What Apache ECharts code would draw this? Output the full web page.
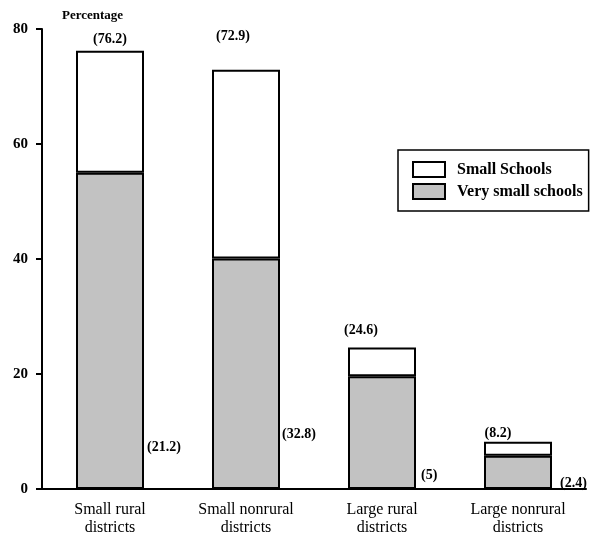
<!DOCTYPE html>
<html><head><meta charset="utf-8">
<script src="https://cdn.jsdelivr.net/npm/echarts@6/dist/echarts.min.js"></script>
<style>html,body{margin:0;padding:0;background:#fff}#c{width:597px;height:539px}</style>
</head><body><div id="c"></div>
<script>
const categories = ['Small rural\ndistricts', 'Small nonrural\ndistricts', 'Large rural\ndistricts', 'Large nonrural\ndistricts'];
const totals = [76.2, 72.9, 24.6, 8.2];
const smallSchools = [21.2, 32.8, 5, 2.4];
const verySmallSchools = [55.0, 40.1, 19.6, 5.8];
const yTicks = [0, 20, 40, 60, 80];

// label layout (not data)
const topLabelOffsets = [[0, 0], [-13, -22], [-21, -6], [-20, 3]];
const sideLabelOffsets = [[3, -35], [2, -48], [5, -7], [8, 1]];

const FONT = 'Liberation Serif';
const chart = echarts.init(document.getElementById('c'));
chart.setOption({
  animation: false,
  backgroundColor: '#fff',
  textStyle: { fontFamily: FONT, color: '#000' },
  grid: { left: 42, right: 11, top: 29, bottom: 50 },
  legend: {
    orient: 'vertical', left: 398, top: 150,
    padding: [11, 6, 11, 14], itemGap: 5,
    borderColor: '#000', borderWidth: 1.5,
    itemWidth: 32, itemHeight: 15,
    textStyle: { fontFamily: FONT, fontSize: 16, fontWeight: 'bold', color: '#000', padding: [0, 0, 0, 7] },
    data: [
      { name: 'Small Schools', icon: 'rect' },
      { name: 'Very small schools', icon: 'rect' }
    ]
  },
  xAxis: {
    type: 'category', data: categories,
    axisLine: { lineStyle: { color: '#000', width: 2 } },
    axisTick: { show: false },
    axisLabel: { fontFamily: FONT, fontSize: 16, color: '#000', lineHeight: 18, margin: 12 }
  },
  yAxis: {
    type: 'value', min: 0, max: 80, interval: 20,
    name: 'Percentage', nameLocation: 'end', nameGap: 7,
    nameTextStyle: { fontFamily: FONT, fontSize: 13, fontWeight: 'bold', color: '#000', align: 'left', padding: [0, 0, 0, 20] },
    axisLine: { show: true, lineStyle: { color: '#000', width: 2 } },
    axisTick: { show: true, length: 6, lineStyle: { color: '#000', width: 2 } },
    splitLine: { show: false },
    axisLabel: { fontFamily: FONT, fontSize: 15, fontWeight: 'bold', color: '#000', margin: 14,
      formatter: v => yTicks.includes(v) ? String(v) : '' }
  },
  series: [
    {
      name: 'Very small schools', type: 'bar', stack: 's', barWidth: '50%',
      itemStyle: { color: '#c2c2c2', borderColor: '#000', borderWidth: 2 },
      data: verySmallSchools.map((v, i) => ({
        value: v,
        label: {
          show: true, position: ['100%', '100%'], align: 'left', verticalAlign: 'bottom',
          offset: sideLabelOffsets[i],
          formatter: '(' + smallSchools[i] + ')',
          fontFamily: FONT, fontSize: 14, fontWeight: 'bold', color: '#000'
        }
      }))
    },
    {
      name: 'Small Schools', type: 'bar', stack: 's', barWidth: '50%',
      itemStyle: { color: '#fff', borderColor: '#000', borderWidth: 2 },
      data: smallSchools.map((v, i) => ({
        value: v,
        label: {
          show: true, position: 'top', distance: 4,
          offset: topLabelOffsets[i],
          formatter: '(' + totals[i] + ')',
          fontFamily: FONT, fontSize: 14, fontWeight: 'bold', color: '#000'
        }
      }))
    }
  ]
});
</script></body></html>
